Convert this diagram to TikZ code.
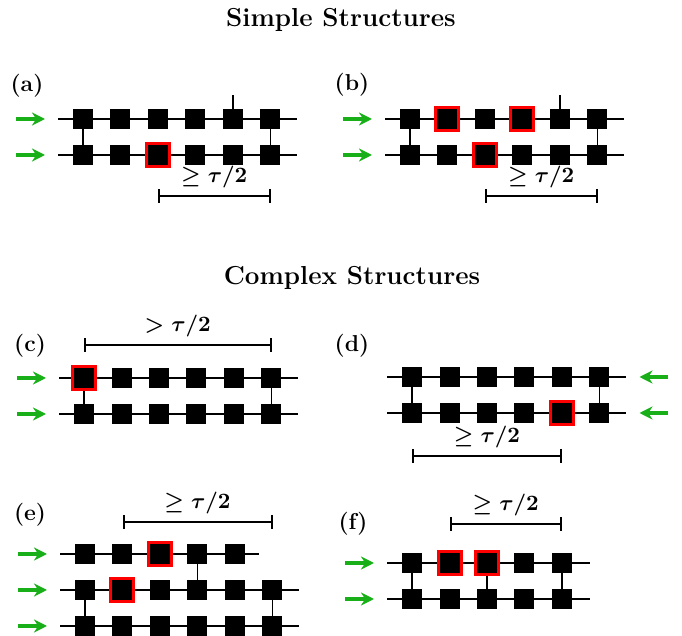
\documentclass[tikz,border=0pt]{standalone}
\usetikzlibrary{matrix,positioning,backgrounds,arrows.meta}
\definecolor{feedgreen}{RGB}{25,175,25}

\begin{document}
\begin{tikzpicture}[x=0.5pt, y=-0.5pt,
    qb/.style={fill=black, minimum size=10pt, inner sep=0pt, anchor=center},
    hit/.style={draw=red, line width=1.5pt, minimum size=11.5pt},
    gap/.style={fill=none},
    chain/.style={matrix of nodes, nodes in empty cells,
      column sep={18.75pt,between origins}, row sep={18pt,between origins}, nodes={qb}},
    wire/.style={line width=0.8pt},
    feed/.style={-{Stealth[length=6.5pt,width=6.5pt]}, line width=1.6pt, feedgreen},
    span/.style={line width=1pt, {Bar[width=7pt]}-{Bar[width=7pt]}},
    gapsize/.style={font=\fontsize{10.5}{12}\selectfont\boldmath},
    tag/.style={font=\fontsize{11.5}{13}\selectfont\bfseries},
    heading/.style={font=\fontsize{13}{15}\selectfont\bfseries}
  ]
\useasboundingbox (0,0) rectangle (682,636);

% Headings
\node[heading] (simple) at (341,20) {Simple Structures};
\node[heading] (complex) at (352,278) {Complex Structures};

% (a)
\node[tag] (tag-a) at (27,86) {(a)};
\matrix (a) [chain, anchor=a-1-1.center] at (83,119) {
 & & & & & \\
 & & |[hit]| & & & \\
};
\begin{scope}[on background layer]
\foreach \r in {1,2} \draw[wire] ([xshift=-12.5pt]a-\r-1.center) -- ([xshift=13pt]a-\r-6.center);
\draw[wire] (a-1-1) -- (a-2-1) (a-1-6) -- (a-2-6) (a-1-5.center) -- ++(0,12pt);
\end{scope}
\foreach \r in {1,2} \draw[feed] ([xshift=-33.5pt]a-\r-1.center) -- ([xshift=-19pt]a-\r-1.center);
\draw[span] ([yshift=-20.5pt]a-2-3.center) -- ([yshift=-20.5pt]a-2-6.center)
  node[midway, above, gapsize] {$\geq\tau/2$};

% (b)
\node[tag] (tag-b) at (352,85) {(b)};
\matrix (b) [chain, anchor=b-1-1.center] at (410,119) {
 & |[hit]| & & |[hit]| & & \\
 & & |[hit]| & & & \\
};
\begin{scope}[on background layer]
\foreach \r in {1,2} \draw[wire] ([xshift=-12.5pt]b-\r-1.center) -- ([xshift=13pt]b-\r-6.center);
\draw[wire] (b-1-1) -- (b-2-1) (b-1-6) -- (b-2-6) (b-1-5.center) -- ++(0,12pt);
\end{scope}
\foreach \r in {1,2} \draw[feed] ([xshift=-33.5pt]b-\r-1.center) -- ([xshift=-19pt]b-\r-1.center);
\draw[span] ([yshift=-20.5pt]b-2-3.center) -- ([yshift=-20.5pt]b-2-6.center)
  node[midway, above, gapsize] {$\geq\tau/2$};

% (c)
\node[tag] (tag-c) at (30,346) {(c)};
\matrix (c) [chain, anchor=c-1-1.center] at (84,378) {
 |[hit]| & & & & & \\
 & & & & & \\
};
\begin{scope}[on background layer]
\foreach \r in {1,2} \draw[wire] ([xshift=-12.5pt]c-\r-1.center) -- ([xshift=13pt]c-\r-6.center);
\draw[wire] (c-1-1) -- (c-2-1) (c-1-6) -- (c-2-6);
\end{scope}
\foreach \r in {1,2} \draw[feed] ([xshift=-33.5pt]c-\r-1.center) -- ([xshift=-19pt]c-\r-1.center);
\draw[span] ([yshift=16.5pt]c-1-1.center) -- ([yshift=16.5pt]c-1-6.center)
  node[midway, above, gapsize] {$>\tau/2$};

% (d), fed from the right
\node[tag] (tag-d) at (352,346) {(d)};
\matrix (d) [chain, anchor=d-1-1.center] at (412,377) {
 & & & & & \\
 & & & & |[hit]| & \\
};
\begin{scope}[on background layer]
\foreach \r in {1,2} \draw[wire] ([xshift=-12.5pt]d-\r-1.center) -- ([xshift=13pt]d-\r-6.center);
\draw[wire] (d-1-1) -- (d-2-1) (d-1-6) -- (d-2-6);
\end{scope}
\foreach \r in {1,2} \draw[feed] ([xshift=34pt]d-\r-6.center) -- ([xshift=20pt]d-\r-6.center);
\draw[span] ([yshift=-21.5pt]d-2-1.center) -- ([yshift=-21.5pt]d-2-5.center)
  node[midway, above, gapsize] {$\geq\tau/2$};

% (e), three chains, the top one a site short
\node[tag] (tag-e) at (30,515) {(e)};
\matrix (e) [chain, anchor=e-1-1.center] at (85,554) {
 & & |[hit]| & & & |[gap]| \\
 & |[hit]| & & & & \\
 & & & & & \\
};
\begin{scope}[on background layer]
\draw[wire] ([xshift=-12.5pt]e-1-1.center) -- ([xshift=12pt]e-1-5.center);
\foreach \r in {2,3} \draw[wire] ([xshift=-12.5pt]e-\r-1.center) -- ([xshift=13pt]e-\r-6.center);
\draw[wire] (e-1-4) -- (e-2-4) (e-2-1) -- (e-3-1) (e-2-6) -- (e-3-6);
\end{scope}
\foreach \r in {1,2,3} \draw[feed] ([xshift=-33.5pt]e-\r-1.center) -- ([xshift=-19pt]e-\r-1.center);
\draw[span] ([yshift=16pt]e-1-2.center) -- ([yshift=16pt]e-1-6.center)
  node[midway, above, gapsize] {$\geq\tau/2$};

% (f)
\node[tag] (tag-f) at (353,524) {(f)};
\matrix (f) [chain, anchor=f-1-1.center] at (412,563) {
 & |[hit]| & |[hit]| & & \\
 & & & & \\
};
\begin{scope}[on background layer]
\foreach \r in {1,2} \draw[wire] ([xshift=-12.5pt]f-\r-1.center) -- ([xshift=14pt]f-\r-5.center);
\draw[wire] (f-1-1) -- (f-2-1) (f-1-3) -- (f-2-3) (f-1-5) -- (f-2-5);
\end{scope}
\foreach \r in {1,2} \draw[feed] ([xshift=-33.5pt]f-\r-1.center) -- ([xshift=-19pt]f-\r-1.center);
\draw[span] ([yshift=19.5pt]f-1-2.center) -- ([yshift=19.5pt]f-1-5.center)
  node[midway, above, gapsize] {$\geq\tau/2$};

\end{tikzpicture}
\end{document}
